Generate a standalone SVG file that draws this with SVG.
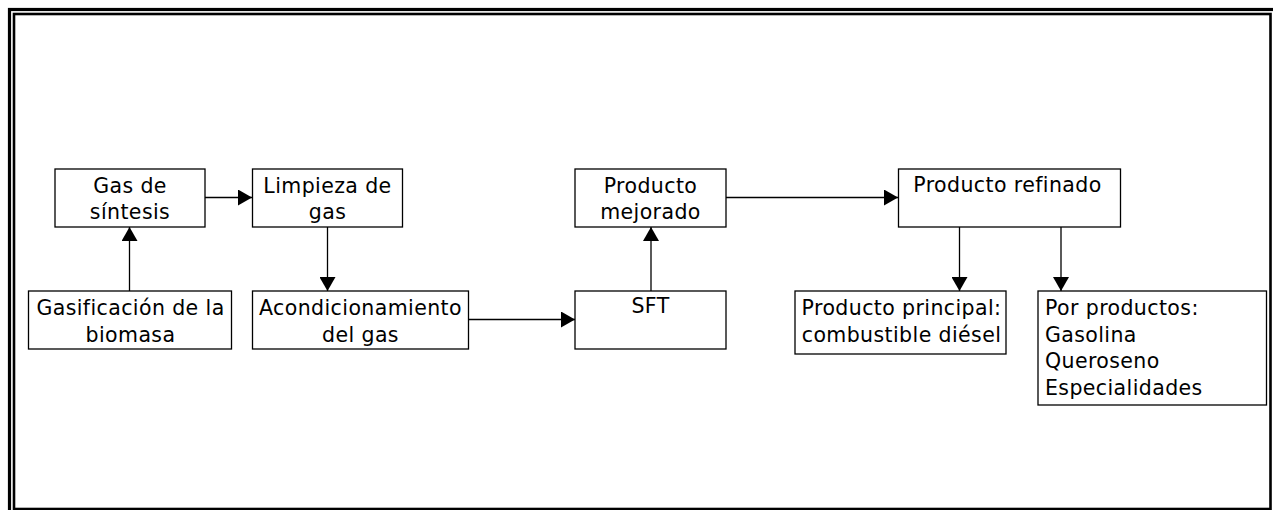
<svg xmlns="http://www.w3.org/2000/svg" width="1273" height="510" viewBox="0 0 1273 510">
  <style>
    .box { fill: #ffffff; stroke: #000000; stroke-width: 1.3; }
    .lbl { font-family: "DejaVu Sans", Verdana, sans-serif; font-size: 20.5px; letter-spacing: 0.4px; fill: #000000; }
    .mid { text-anchor: middle; }
    .conn { fill: none; stroke: #000000; stroke-width: 1.3; marker-end: url(#head); }
    .frame { fill: none; stroke: #000000; }
  </style>
  <defs>
    <marker id="head" markerUnits="userSpaceOnUse" markerWidth="14" markerHeight="16" refX="14" refY="8" orient="auto">
      <path d="M0,0 L14,8 L0,16 Z" fill="#000000"/>
    </marker>
  </defs>

  <rect width="1273" height="510" fill="#ffffff"/>

  <!-- double page frame -->
  <rect class="frame" x="9.5" y="9.5" width="1272" height="512" stroke-width="3.2"/>
  <rect class="frame" x="14" y="14" width="1256.5" height="495" stroke-width="2.6"/>

  <!-- connectors -->
  <g id="connectors">
    <path class="conn" d="M205,197.5 H252"/>
    <path class="conn" d="M129.5,291 V227"/>
    <path class="conn" d="M327.5,227 V291"/>
    <path class="conn" d="M469,319.5 H575"/>
    <path class="conn" d="M651,291 V227"/>
    <path class="conn" d="M726,197.5 H898"/>
    <path class="conn" d="M959.5,227 V291"/>
    <path class="conn" d="M1061,227 V291"/>
  </g>

  <g id="gas-sintesis">
    <rect class="box" x="55" y="169" width="150" height="58"/>
    <text class="lbl mid" x="130" y="192.5">Gas de</text>
    <text class="lbl mid" x="130" y="219.3">síntesis</text>
  </g>

  <g id="limpieza">
    <rect class="box" x="252.5" y="169" width="150" height="58"/>
    <text class="lbl mid" x="327.5" y="192.5">Limpieza de</text>
    <text class="lbl mid" x="327.5" y="219.3">gas</text>
  </g>

  <g id="gasificacion">
    <rect class="box" x="28.5" y="291" width="203" height="58"/>
    <text class="lbl mid" x="130.5" y="315">Gasificación de la</text>
    <text class="lbl mid" x="130.5" y="341.8">biomasa</text>
  </g>

  <g id="acondicionamiento">
    <rect class="box" x="252.5" y="291" width="216" height="58"/>
    <text class="lbl mid" x="360.5" y="315">Acondicionamiento</text>
    <text class="lbl mid" x="360.5" y="341.8">del gas</text>
  </g>

  <g id="producto-mejorado">
    <rect class="box" x="575" y="169" width="151" height="58"/>
    <text class="lbl mid" x="650.5" y="192.5">Producto</text>
    <text class="lbl mid" x="650.5" y="219.3">mejorado</text>
  </g>

  <g id="sft">
    <rect class="box" x="575" y="291" width="151" height="58"/>
    <text class="lbl mid" x="650.5" y="313">SFT</text>
  </g>

  <g id="producto-refinado">
    <rect class="box" x="898.5" y="169" width="222" height="58"/>
    <text class="lbl mid" x="1007.5" y="192">Producto refinado</text>
  </g>

  <g id="producto-principal">
    <rect class="box" x="795" y="291" width="211" height="63"/>
    <text class="lbl mid" x="901.5" y="315">Producto principal:</text>
    <text class="lbl mid" x="901.5" y="341.8">combustible diésel</text>
  </g>

  <g id="por-productos">
    <rect class="box" x="1038" y="291" width="228.5" height="114"/>
    <text class="lbl" x="1045" y="314.7">Por productos:</text>
    <text class="lbl" x="1045" y="341.5">Gasolina</text>
    <text class="lbl" x="1045" y="368.3">Queroseno</text>
    <text class="lbl" x="1045" y="395.1">Especialidades</text>
  </g>
</svg>
